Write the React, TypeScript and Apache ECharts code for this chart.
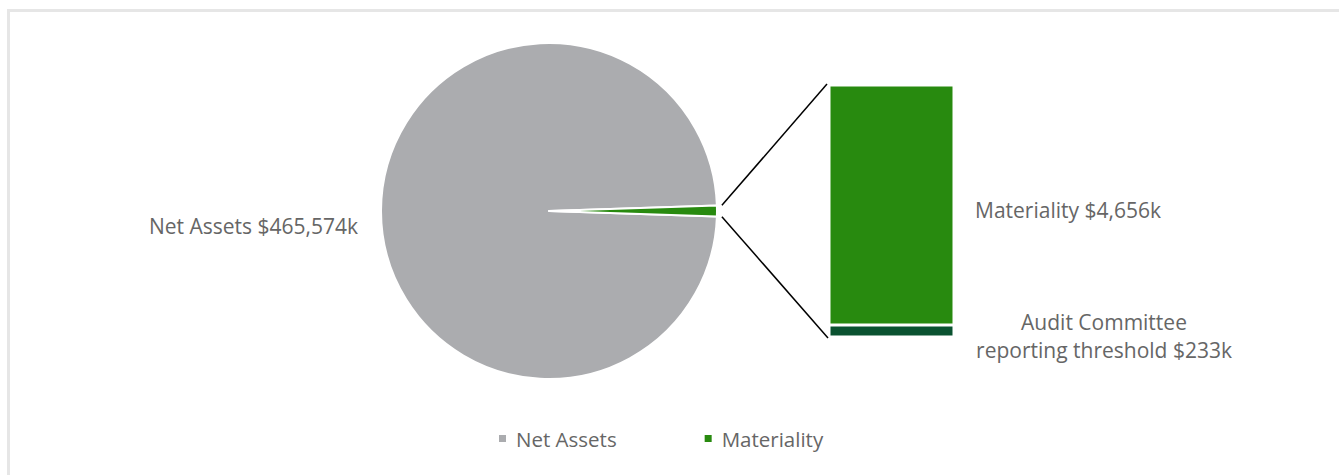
import React, { useEffect, useRef } from "react";
import * as echarts from "echarts";

const pieNames = ["Net Assets", "Materiality"];
const netAssets = 465574;
const barNames = ["Audit Committee\nreporting threshold", "Materiality"];
const barValues = [233, 4656];
const barCategory = ["Breakdown"];

const FONT = "'Open Sans', sans-serif";
const TEXT = "#666666";
const GRAY = "#abacaf";
const GREEN = "#288a0f";
const DARK = "#0a5230";

export default function App() {
  const ref = useRef<HTMLDivElement>(null);
  useEffect(() => {
    if (!ref.current) return;
    const chart = echarts.init(ref.current, undefined, { renderer: "svg" });
    const other = barValues[0] + barValues[1];
    const total = netAssets + other;
    const halfAngle = (360 * other) / total / 2;
    const cx = 549;
    const cy = 211;
    const R = 168;
    const gridLeft = 829;
    const gridTop = 85;
    const gridW = 125;
    const gridH = 252;
    const fmt = (v: number) => "$" + v.toLocaleString("en-US") + "k";
    chart.setOption({
      animation: false,
      textStyle: { fontFamily: FONT },
      legend: {
        bottom: 21,
        left: 492,
        icon: "rect",
        itemWidth: 9,
        itemHeight: 9,
        itemGap: 86,
        textStyle: { fontFamily: FONT, fontSize: 20.5, color: TEXT, padding: [0, 0, 0, 4] },
        data: pieNames,
      },
      grid: { left: gridLeft, top: gridTop, width: gridW, height: gridH },
      xAxis: { type: "category", data: barCategory, show: false },
      yAxis: { type: "value", min: 0, max: other, show: false },
      series: [
        {
          type: "pie",
          center: [cx, cy],
          radius: R,
          startAngle: -halfAngle,
          clockwise: true,
          avoidLabelOverlap: false,
          itemStyle: { borderColor: "#fff", borderWidth: 2 },
          label: {
            show: true,
            position: "outside",
            fontFamily: FONT,
            fontSize: 21,
            lineHeight: 30,
            color: TEXT,
            formatter: (p: any) => "\n" + p.name + " " + fmt(p.value),
          },
          labelLine: { show: false, length: 18, length2: 0 },
          data: [
            { name: pieNames[0], value: netAssets, itemStyle: { color: GRAY } },
            {
              name: pieNames[1],
              value: other,
              itemStyle: { color: GREEN },
              label: { show: false },
            },
          ],
        },
        {
          type: "bar",
          name: barNames[0],
          stack: "b",
          barWidth: "100%",
          itemStyle: { color: DARK, borderColor: "#fff", borderWidth: 1.5 },
          label: {
            show: true,
            position: [275, "50%"],
            align: "center",
            verticalAlign: "middle",
            offset: [0, 5],
            fontFamily: FONT,
            fontSize: 21,
            lineHeight: 28,
            color: TEXT,
            formatter: (p: any) => p.seriesName + " " + fmt(p.value),
          },
          data: [barValues[0]],
        },
        {
          type: "bar",
          name: barNames[1],
          stack: "b",
          barWidth: "100%",
          itemStyle: { color: GREEN, borderColor: "#fff", borderWidth: 1.5 },
          label: {
            show: true,
            position: [146, "50%"],
            align: "left",
            verticalAlign: "middle",
            offset: [0, 5],
            fontFamily: FONT,
            fontSize: 21,
            color: TEXT,
            formatter: (p: any) => p.seriesName + " " + fmt(p.value),
          },
          data: [barValues[1]],
        },
      ],
    });
    const top = chart.convertToPixel({ xAxisIndex: 0, yAxisIndex: 0 }, [0, other]) as number[];
    const bottom = chart.convertToPixel({ xAxisIndex: 0, yAxisIndex: 0 }, [0, 0]) as number[];
    const leftX = top[0] - gridW / 2;
    const r2 = R + 5;
    const a = (halfAngle * Math.PI) / 180;
    chart.setOption({
      graphic: [
        {
          type: "line",
          shape: { x1: cx + r2 * Math.cos(a), y1: cy - r2 * Math.sin(a), x2: leftX - 2, y2: top[1] - 1 },
          style: { stroke: "#000", lineWidth: 1.5 },
        },
        {
          type: "line",
          shape: { x1: cx + r2 * Math.cos(a), y1: cy + r2 * Math.sin(a), x2: leftX - 1, y2: bottom[1] + 1 },
          style: { stroke: "#000", lineWidth: 1.5 },
        },
      ],
    });
    return () => chart.dispose();
  }, []);
  return (
    <div style={{ position: "fixed", left: 0, top: 0, width: 1339, height: 475, overflow: "hidden", background: "#fff" }}>
      <div
        style={{
          position: "absolute",
          left: 7,
          top: 9,
          width: 1500,
          height: 700,
          border: "3px solid #e6e6e6",
          boxSizing: "border-box",
        }}
      />
      <div ref={ref} style={{ position: "absolute", left: 0, top: 0, width: 1339, height: 475 }} />
    </div>
  );
}
